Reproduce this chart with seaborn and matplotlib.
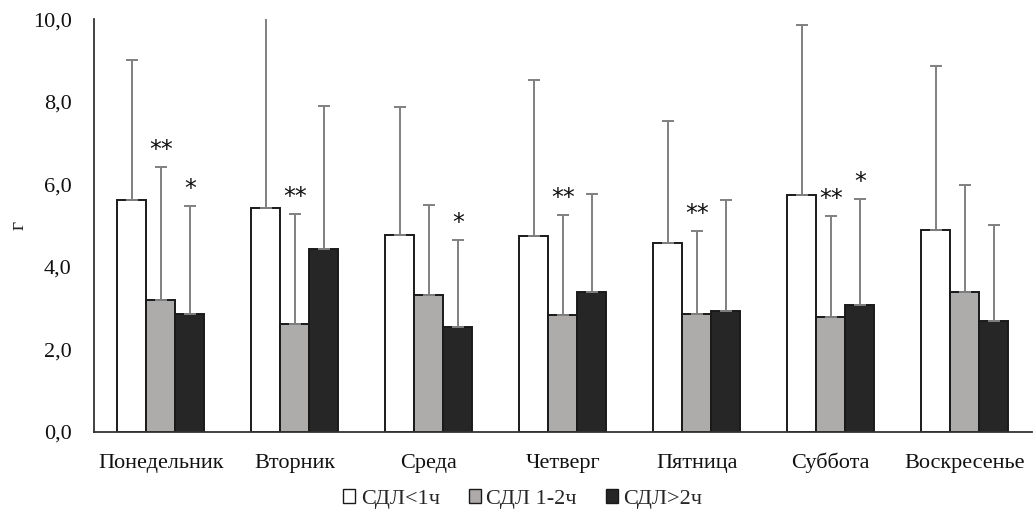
import matplotlib
matplotlib.use("Agg")
import matplotlib.pyplot as plt
from matplotlib.patches import Patch
import numpy as np
import pandas as pd
import seaborn as sns

# Days of the week and group labels
days = ["Понедельник", "Вторник", "Среда", "Четверг", "Пятница", "Суббота", "Воскресенье"]
groups = ["СДЛ<1ч", "СДЛ 1-2ч", "СДЛ>2ч"]

# Mean values (g) for each group per day
mean_lt1 = [5.61, 5.43, 4.77, 4.74, 4.59, 5.74, 4.89]
mean_1_2 = [3.19, 2.62, 3.32, 2.83, 2.87, 2.78, 3.39]
mean_gt2 = [2.87, 4.43, 2.54, 3.39, 2.94, 3.07, 2.69]

# Upper ends of the error bars (mean + SD)
upper_lt1 = [9.02, 10.30, 7.88, 8.54, 7.54, 9.87, 8.87]
upper_1_2 = [6.43, 5.28, 5.49, 5.25, 4.86, 5.23, 5.98]
upper_gt2 = [5.47, 7.90, 4.65, 5.77, 5.61, 5.65, 5.01]

# Significance marks
sig_lt1 = ["", "", "", "", "", "", ""]
sig_1_2 = ["**", "**", "", "**", "**", "**", ""]
sig_gt2 = ["*", "", "*", "", "", "*", ""]

colors = ["#ffffff", "#aeaaaa", "#262626"]

means = [mean_lt1, mean_1_2, mean_gt2]
uppers = [upper_lt1, upper_1_2, upper_gt2]
sigs = [sig_lt1, sig_1_2, sig_gt2]

df = pd.DataFrame({
    "day": np.repeat([days], 3, axis=0).ravel(),
    "group": np.repeat(groups, len(days)),
    "value": np.concatenate(means),
})

sns.set_theme(style="white")
plt.rcParams["font.family"] = ["Liberation Serif", "DejaVu Serif"]

fig = plt.figure(figsize=(10.35, 5.14), dpi=100)
ax = fig.add_axes([0.0908, 0.1595, 0.906, 0.803])

sns.barplot(data=df, x="day", y="value", hue="group", order=days,
            hue_order=groups, palette=colors, width=0.65, gap=0,
            errorbar=None, edgecolor="#1a1a1a", linewidth=1.4,
            legend=False, ax=ax)

# Bars are stored hue-by-hue, each in day order
patches = ax.patches
for gi in range(len(groups)):
    for di in range(len(days)):
        p = patches[gi * len(days) + di]
        xc = p.get_x() + p.get_width() / 2
        top = means[gi][di]
        up = uppers[gi][di]
        ax.errorbar(xc, top, yerr=[[0], [up - top]], fmt="none",
                    ecolor="#808080", elinewidth=1.4, capsize=4,
                    capthick=1.4, zorder=1)
        if sigs[gi][di]:
            ax.text(xc, up + 0.12, sigs[gi][di], ha="center", va="bottom",
                    fontsize=17, color="#111111", family="DejaVu Sans")

ax.set_ylim(0, 10)
ax.set_xlim(-0.5, len(days) - 0.5)
ax.set_yticks(np.arange(0, 10.1, 2))
ax.set_yticklabels([f"{v:.1f}".replace(".", ",") for v in np.arange(0, 10.1, 2)])
ax.tick_params(axis="both", length=0, labelsize=16, colors="#111111")
ax.tick_params(axis="x", pad=26)
ax.tick_params(axis="y", pad=16)
# Keep all day names on a common baseline
for lbl in ax.get_xticklabels():
    lbl.set_verticalalignment("baseline")
ax.set_xlabel("")
ax.set_ylabel("г", fontsize=16)
ax.yaxis.set_label_coords(-0.070, 0.5)

sns.despine(ax=ax, top=True, right=True)
for side in ("left", "bottom"):
    ax.spines[side].set_color("#333333")
    ax.spines[side].set_linewidth(1.3)

handles = [Patch(facecolor=c, edgecolor="#1a1a1a", linewidth=1.0) for c in colors]
fig.legend(handles, groups, loc="center", bbox_to_anchor=(0.505, 0.029),
           ncol=3, frameon=False, fontsize=16, handlelength=0.55,
           handleheight=0.55, handletextpad=0.25, columnspacing=1.3)

fig.savefig("out.png", dpi=100, facecolor="white")
